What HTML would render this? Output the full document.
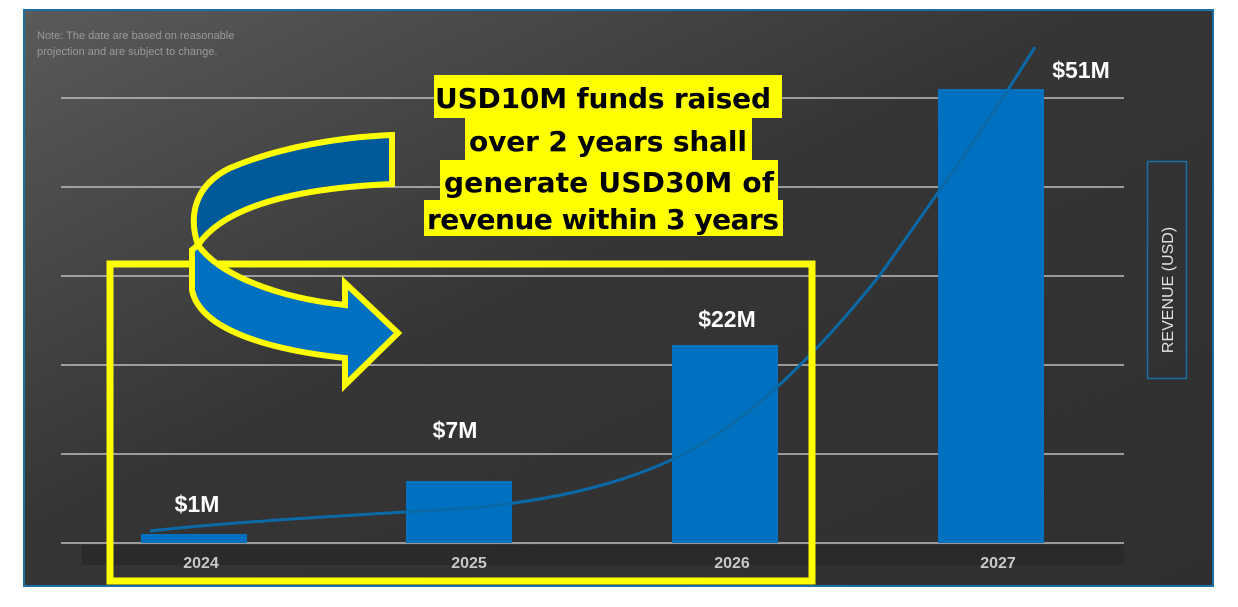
<!DOCTYPE html>
<html><head><style>
body{margin:0;width:1238px;height:602px;background:#fff;overflow:hidden;font-family:"Liberation Sans",sans-serif;}
</style></head><body>
<svg width="1238" height="602" viewBox="0 0 1238 602" xmlns="http://www.w3.org/2000/svg">
<defs>
<linearGradient id="bg" x1="0" y1="0" x2="1" y2="1">
<stop offset="0" stop-color="#5a5a5a"/><stop offset="0.45" stop-color="#353535"/><stop offset="1" stop-color="#2f2f2f"/>
</linearGradient>
</defs>
<rect x="24" y="10" width="1189" height="576" fill="url(#bg)" stroke="#1b6ea6" stroke-width="2"/>
<text x="37" y="39" font-size="11" fill="#9a9a9a">Note: The date are based on reasonable</text>
<text x="37" y="55" font-size="11" fill="#9a9a9a">projection and are subject to change.</text>
<g stroke="#bdbdbd" stroke-width="1.5">
<line x1="61" y1="98" x2="1124" y2="98"/>
<line x1="61" y1="187" x2="1124" y2="187"/>
<line x1="61" y1="276" x2="1124" y2="276"/>
<line x1="61" y1="365" x2="1124" y2="365"/>
<line x1="61" y1="454" x2="1124" y2="454"/>
<line x1="61" y1="543" x2="1124" y2="543"/>
</g>
<rect x="82" y="545" width="1042" height="20" fill="#2a2a2a"/>
<g fill="#0070c0">
<rect x="141" y="534" width="106" height="9"/>
<rect x="406" y="481" width="106" height="62"/>
<rect x="672" y="345" width="106" height="198"/>
<rect x="938" y="89" width="106" height="454"/>
</g>
<path d="M150,531 C250,520 380,514 470,508 C560,500 640,480 700,445 C760,410 820,350 880,275 C940,190 990,120 1035,47" fill="none" stroke="#0a6aa8" stroke-width="3"/>
<g font-weight="bold" fill="#c8c8c8" font-size="16" text-anchor="middle">
<text x="201" y="568">2024</text><text x="469" y="568">2025</text><text x="732" y="568">2026</text><text x="998" y="568">2027</text>
</g>
<g font-weight="bold" fill="#fff" font-size="23" text-anchor="middle">
<text x="197" y="512">$1M</text><text x="455" y="438">$7M</text><text x="727" y="327">$22M</text><text x="1081" y="78">$51M</text>
</g>
<rect x="1147.5" y="161.5" width="39" height="217" fill="none" stroke="#1b6ea6" stroke-width="1.5"/>
<text transform="translate(1173,290) rotate(-90)" font-size="16" fill="#e0e0e0" text-anchor="middle">REVENUE (USD)</text>
<rect x="110" y="264" width="702" height="317" fill="none" stroke="#ffff00" stroke-width="7"/>
<path d="M392,135 L392,184 C300,188 225,205 198,245 C188,215 195,185 230,168 C280,147 340,137 392,135 Z" fill="#005a9a" stroke="#ffff00" stroke-width="6" stroke-linejoin="miter"/>
<path d="M198,245 C220,276 280,298 345,305 L345,283 L398,333 L345,385 L345,358 C270,350 200,330 192,290 L192,250 Z" fill="#0070c0" stroke="#ffff00" stroke-width="6"/>
<g fill="#ffff00">
<rect x="434" y="75" width="348" height="43"/>
<rect x="465" y="118" width="287" height="42"/>
<rect x="440" y="160" width="338" height="40"/>
<rect x="424" y="200" width="359" height="36"/>
</g>
<g font-weight="bold" fill="#000" font-size="28" text-anchor="middle" font-family="'DejaVu Sans',sans-serif">
<text x="603" y="108" textLength="336">USD10M funds raised</text>
<text x="608" y="151" textLength="278">over 2 years shall</text>
<text x="609" y="192" textLength="330">generate USD30M of</text>
<text x="603" y="229" textLength="352">revenue within 3 years</text>
</g>
</svg>
</body></html>
